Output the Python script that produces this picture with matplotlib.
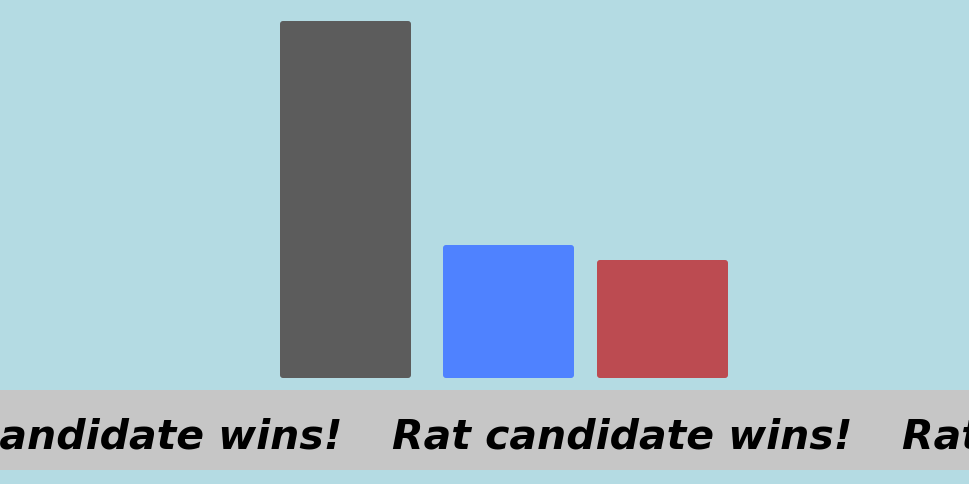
import matplotlib
matplotlib.use("Agg")
from matplotlib import pyplot as plt
from matplotlib.patches import FancyBboxPatch, Rectangle

# bar data (heights in pixels of the reference)
candidates = ["Other", "Blue", "Red"]
values = [357, 133, 118]
colors = ["#5c5c5c", "#4f82ff", "#bc4b51"]
bar_left = [280, 443, 597]
bar_width = 131

banner_text = "Rat candidate wins!"
banner_starts = [-118, 392, 902]
text_width = 460

W, H = 970, 485
fig = plt.figure(figsize=(W / 100, H / 100), dpi=100)
fig.patch.set_facecolor("#b4dbe3")

# full figure axes in pixel coordinates (y down)
bg = fig.add_axes([0, 0, 1, 1])
bg.set_xlim(0, W)
bg.set_ylim(H, 0)
bg.axis("off")

baseline = 379
ax = fig.add_axes([0, (H - baseline) / H, 1, baseline / H])
ax.set_xlim(0, W)
ax.set_ylim(0, baseline)
ax.axis("off")

for x, v, c in zip(bar_left, values, colors):
    r = 3
    ax.add_patch(FancyBboxPatch((x + r, r), bar_width - 2 * r, v - 2 * r,
                                boxstyle=f"round,pad={r}", fc=c, ec="none"))

band = Rectangle((0, 391), W, 80, fc="#c6c6c6", ec="none")
bg.add_patch(band)

# fit the font size so one copy spans text_width pixels
renderer = fig.canvas.get_renderer()
probe = bg.text(0, 0, banner_text, fontsize=30, fontweight="bold",
                fontstyle="italic", family="DejaVu Sans")
w = probe.get_window_extent(renderer).width
probe.remove()
fs = 30 * text_width / w

for sx in banner_starts:
    t = bg.text(sx, 448.5, banner_text, fontsize=fs, fontweight="bold",
                fontstyle="italic", family="DejaVu Sans", color="black",
                va="baseline", ha="left")
    t.set_clip_path(band)

fig.savefig("out.png", dpi=100, facecolor=fig.get_facecolor())
